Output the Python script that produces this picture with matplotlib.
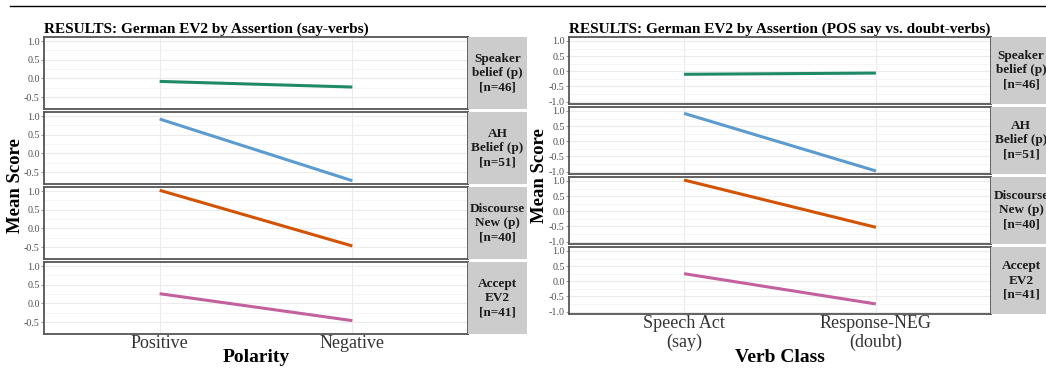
import matplotlib
matplotlib.use("Agg")
import matplotlib.pyplot as plt
from matplotlib.lines import Line2D

plt.rcParams['font.family'] = ['Liberation Serif', 'DejaVu Serif']

W, H = 1046, 368

# facet rows (shared by both plots)
facets = ["Speaker\nbelief (p)\n[n=46]", "AH\nBelief (p)\n[n=51]",
          "Discourse\nNew (p)\n[n=40]", "Accept\nEV2\n[n=41]"]
colors = ["#1f8a63", "#5b9bcf", "#d25303", "#c4609e"]

# left plot: polarity
pol_levels = ["Positive", "Negative"]
pol_speaker = [-0.08, -0.23]
pol_ah = [0.92, -0.73]
pol_disc = [1.02, -0.47]
pol_accept = [0.26, -0.46]

# right plot: verb class
vc_levels = ["Speech Act\n(say)", "Response-NEG\n(doubt)"]
vc_speaker = [-0.10, -0.06]
vc_ah = [0.92, -0.98]
vc_disc = [1.03, -0.53]
vc_accept = [0.25, -0.75]

fig = plt.figure(figsize=(W / 100, H / 100), dpi=100)


def box(x0, y0, x1, y1):
    return [x0 / W, 1 - y1 / H, (x1 - x0) / W, (y1 - y0) / H]


def facet_plot(left, right, strip_w, rows, levels, series, yticks, title,
               xlabel, xlab_y, ylab_x):
    ymin = min(min(s) for s in series)
    ymax = max(max(s) for s in series)
    pad = 0.05 * (ymax - ymin)
    axes = []
    for i, (top, bot) in enumerate(rows):
        ax = fig.add_axes(box(left, top, right, bot))
        ax.plot([1, 2], series[i], color=colors[i], lw=2.2,
                solid_capstyle='butt', zorder=3)
        ax.set_xlim(0.4, 2.6)
        ax.set_ylim(ymin - pad, ymax + pad)
        ax.set_yticks(yticks)
        ax.set_yticklabels([f"{t:.1f}" for t in yticks])
        ax.set_yticks([(a + b) / 2 for a, b in zip(yticks[:-1], yticks[1:])],
                      minor=True)
        ax.set_xticks([1, 2])
        ax.grid(True, which='major', color='#ebebeb', lw=0.8)
        ax.grid(True, which='minor', axis='y', color='#f4f4f4', lw=0.6)
        ax.set_axisbelow(True)
        ax.tick_params(axis='y', which='major', labelsize=7.2,
                       labelcolor='#4d4d4d', color='#9a9a9a', length=2, pad=1)
        ax.tick_params(axis='y', which='minor', length=0)
        ax.tick_params(axis='x', length=0)
        for sp in ax.spines.values():
            sp.set_color('#555555')
            sp.set_linewidth(1.3)
        if i < len(rows) - 1:
            ax.set_xticklabels([])
        else:
            ax.set_xticklabels(levels, fontsize=13, color='#333333',
                               linespacing=1.1)
            ax.tick_params(axis='x', pad=1)
        # strip on the right
        sax = fig.add_axes(box(right, top, right + strip_w, bot))
        sax.set_facecolor('#cccccc')
        sax.set_xticks([])
        sax.set_yticks([])
        for sp in sax.spines.values():
            sp.set_visible(False)
        sax.text(0.5, 0.5, facets[i], ha='center', va='center',
                 fontsize=9.5, fontweight='bold', color='#1a1a1a',
                 linespacing=1.25, transform=sax.transAxes, clip_on=False)
        axes.append(ax)
    fig.text(left / W, 1 - 33 / H, title, fontsize=11, fontweight='bold',
             ha='left', va='baseline')
    fig.text((left + right) / 2 / W, 1 - xlab_y / H, xlabel, fontsize=14,
             fontweight='bold', ha='center', va='center')
    mid = (rows[0][0] + rows[-1][1]) / 2
    fig.text(ylab_x / W, 1 - mid / H, "Mean Score", fontsize=13.5,
             fontweight='bold', rotation=90, ha='center', va='center')
    return axes


rows_left = [(37, 109), (112, 184), (187, 259), (262, 334)]
rows_right = [(37, 104), (107, 174), (177, 244), (247, 314)]

facet_plot(44, 468, 59, rows_left, pol_levels,
           [pol_speaker, pol_ah, pol_disc, pol_accept],
           [-0.5, 0.0, 0.5, 1.0],
           "RESULTS: German EV2 by Assertion (say-verbs)",
           "Polarity", 357, 16)

facet_plot(569, 991, 60, rows_right, vc_levels,
           [vc_speaker, vc_ah, vc_disc, vc_accept],
           [-1.0, -0.5, 0.0, 0.5, 1.0],
           "RESULTS: German EV2 by Assertion (POS say vs. doubt-verbs)",
           "Verb Class", 357, 540)

# rule across the top
fig.add_artist(Line2D([10 / W, 1], [1 - 6 / H, 1 - 6 / H], color='black',
                      lw=1.0, transform=fig.transFigure))

fig.savefig("out.png", dpi=100)
